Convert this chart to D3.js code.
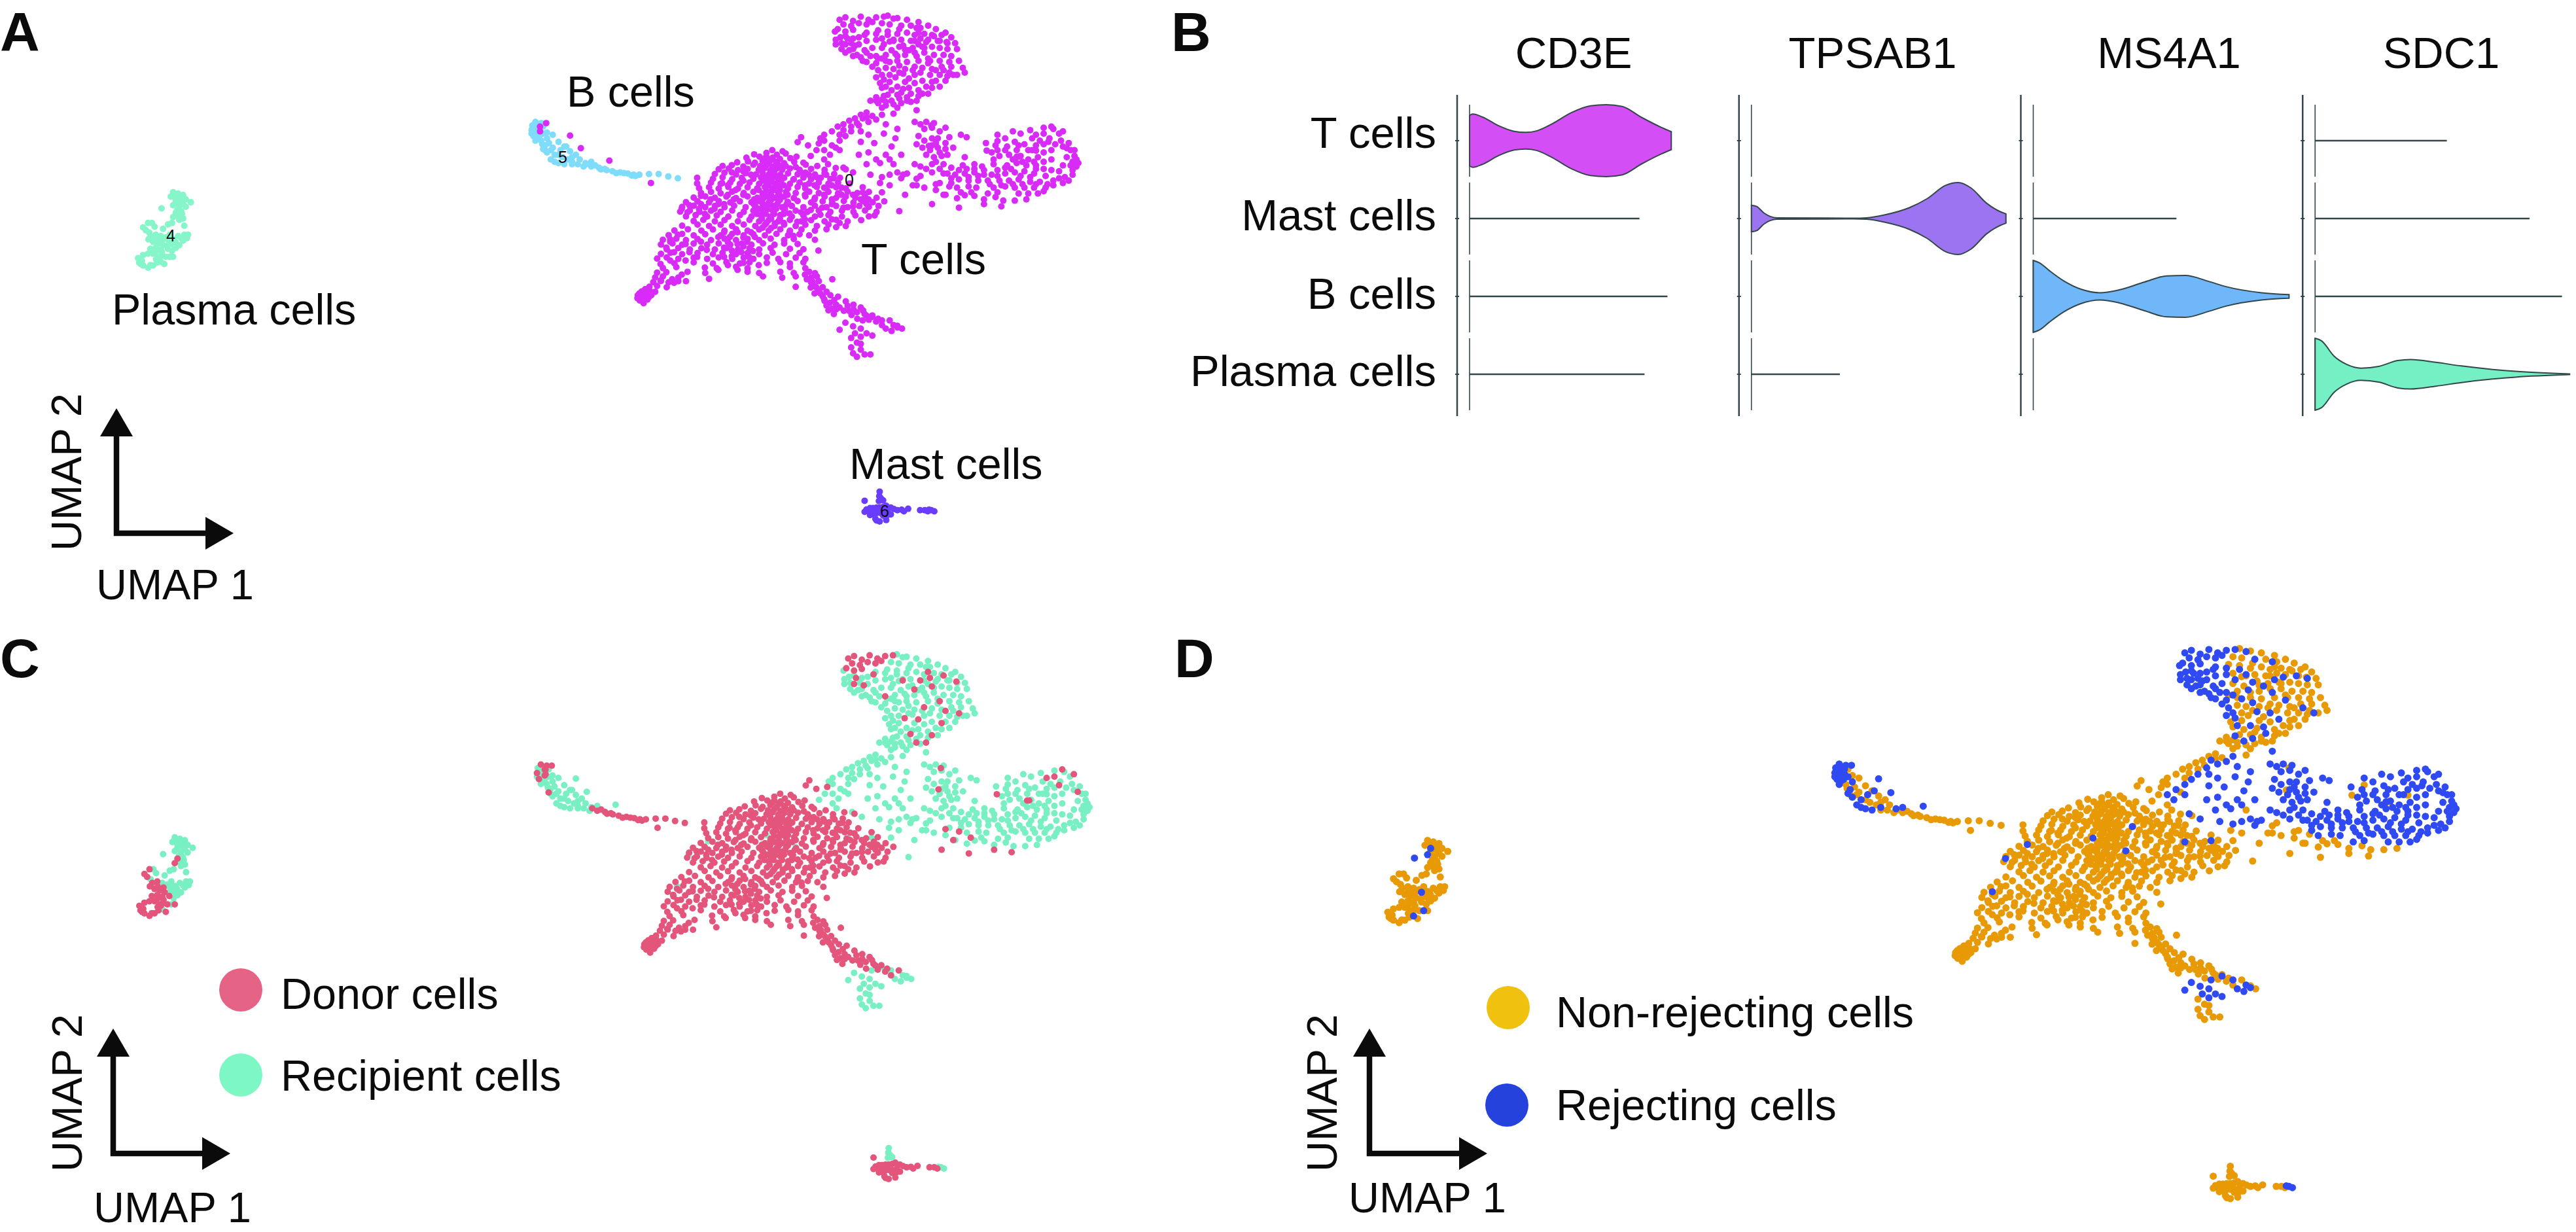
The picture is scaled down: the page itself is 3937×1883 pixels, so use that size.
<!DOCTYPE html>
<html><head><meta charset="utf-8">
<script src="https://cdnjs.cloudflare.com/ajax/libs/d3/7.8.5/d3.min.js"></script>
<style>html,body{margin:0;background:#fff}svg{display:block}text{font-family:"Liberation Sans",Arial,sans-serif;fill:#0b0b0b}</style>
</head><body><div id="c"></div>
<script>
// UMAP cell positions (arbitrary embedding units), grouped as cluster + origin + rejection state, flat x,y lists
const tDonorNon=[715,640,742,645,668,658,700,652,727,660,750,655,778,668,648,672,682,668,695,676,716,672,735,678,762,674,624,692,652,688,670,694,690,686,706,694,725,690,746,696,772,690,796,694,586,708,610,704,640,710,666,702,684,708,700,704,716,710,731,704,750,708,776,712,802,702,832,708,576,722,602,718,626,725,651,720,680,724,695,717,710,726,726,719,741,724,761,718,786,724,816,720,851,724,880,716,906,722,566,742,591,736,621,744,646,738,673,743,690,737,706,744,720,738,736,745,756,739,781,743,801,736,826,744,851,738,876,742,520,758,561,762,586,756,611,764,636,758,666,762,686,757,701,764,716,758,731,764,746,758,771,764,796,757,816,764,841,758,866,763,891,758,520,782,556,778,581,784,606,778,631,784,656,778,681,784,701,778,721,783,736,777,761,784,786,778,811,782,836,777,861,783,886,778,916,782,525,802,551,798,576,804,601,797,626,804,651,798,676,803,696,797,716,804,731,798,756,803,781,797,801,803,831,797,856,804,881,798,906,803,950,798,530,822,556,818,581,824,611,817,641,823,666,818,691,824,711,818,731,824,751,818,776,823,811,817,836,823,861,818,886,824,911,817,936,823,966,818,511,842,541,837,566,843,596,838,621,844,651,837,676,843,701,838,721,843,746,838,771,844,801,837,826,843,851,838,881,843,906,838,931,843,956,837,986,843,491,862,521,858,551,863,576,857,606,863,631,858,661,862,681,857,706,863,731,858,756,863,781,857,816,863,846,858,871,863,901,857,926,863,951,858,976,862,1006,858,481,882,511,877,541,883,566,878,591,883,616,877,646,883,671,878,691,883,716,877,741,883,766,878,796,883,826,877,856,883,881,878,911,883,941,878,966,882,991,878,476,902,501,897,526,903,556,898,581,903,611,897,641,903,666,898,691,903,716,897,746,903,776,898,806,903,836,897,866,903,896,898,926,903,956,897,986,903,491,922,516,917,546,923,571,918,601,923,631,917,661,923,686,918,711,923,736,917,766,923,796,918,826,923,861,917,896,923,931,918,966,922,981,918,511,942,536,937,566,943,591,938,626,943,656,937,681,943,706,938,731,943,761,937,791,943,816,938,851,943,881,937,911,943,946,938,481,962,521,957,551,963,581,958,611,963,641,957,671,963,696,958,721,963,746,957,776,963,801,958,831,963,861,957,906,963,461,982,496,977,531,983,561,978,591,983,621,977,651,983,681,978,706,983,736,977,761,983,791,978,826,983,856,977,881,968,446,1002,481,997,511,1003,541,998,581,1003,611,997,641,1003,666,998,696,1003,726,997,756,1003,786,998,811,1003,431,1022,466,1017,491,1023,521,1018,556,1023,591,1017,621,1023,651,1018,681,1023,711,1017,746,1023,771,1018,826,1022,426,1042,456,1037,481,1043,511,1038,546,1043,576,1037,606,1043,636,1038,661,1043,691,1037,721,1043,746,1038,781,1040,441,1062,471,1057,501,1063,531,1058,566,1063,596,1057,626,1063,656,1058,681,1063,711,1057,761,1060,796,1062,835,1068,426,1082,451,1077,481,1083,521,1078,561,1083,586,1077,621,1083,651,1078,681,1083,716,1077,751,1083,786,1078,416,1102,441,1097,471,1103,511,1098,546,1103,576,1097,611,1103,641,1098,666,1103,701,1097,731,1103,776,1098,801,1103,461,1122,511,1118,561,1123,596,1117,631,1123,656,1118,701,1120,736,1117,761,1123,796,1118,431,1142,466,1138,571,1143,621,1137,651,1143,761,1138,801,1143,416,1162,495,1158,541,1163,651,1158,681,1163,736,1158,771,1163,811,1158,826,1164,411,1182,431,1178,471,1183,551,1188,691,1178,741,1183,776,1178,816,1183,831,1178,871,1190,406,1202,426,1197,446,1203,491,1198,816,1203,836,1198,396,1222,416,1218,441,1224,471,1198,776,1222,826,1218,846,1224,376,1242,396,1238,411,1243,836,1238,856,1243,366,1258,381,1262,401,1258,846,1262,866,1258,886,1264,371,1280,391,1276,381,1292,851,1282,876,1278,906,1284,856,1302,881,1298,911,1303,926,1298,861,1322,881,1318,901,1324,926,1318,951,1323,875,1338,921,1342,955,1338,975,1344,936,1358,966,1362,990,1358,1020,1365,790,585,808,620,781,606,836,612,
  1095,140,1075,175,1100,165,1135,155,1168,180,1030,175,1060,212,1105,200,1125,260,1085,285,1140,300,1175,310,1035,330,1070,335,1130,350,1105,400,1050,395,1090,430,1065,430,
  1140,785,1175,795,1160,830,1130,870,1200,885,1265,870,1310,880,1205,820,1272,642,1355,668,1122,622,1128,535,
  400,780,
  700,668,712,682,728,698,696,712,742,712,708,752,723,752,692,750,738,770,712,770,728,790,705,790,690,770,745,790,720,810,700,812,735,810,690,830,712,832,733,830,755,830,668,850,690,850,712,852,735,852,668,872,690,868,705,872,728,870,752,872,680,890,702,892,725,890,748,892,675,912,698,912,720,912,745,912,688,932,712,932,735,932,700,950,722,952,745,950,690,970,712,972,
  590,990,605,1010,625,990,640,1012,660,990,575,1010,600,1032,625,1040,650,1030,670,1010,590,1055,610,1068,640,1050,665,1070,635,1075,610,1092,590,1095,655,1095,
  530,870,555,850,500,875,525,890,495,905,540,912,565,890,590,870,615,850,640,830,620,810,600,790,640,770,660,745,640,730,610,735,585,780,600,830,575,870,
  790,735,810,745,830,755,855,745,875,760,800,790,825,790,850,800,870,790,895,800,800,830,825,850,850,830,870,850,895,830,925,830,945,850,965,850,960,870,925,880,900,885,870,870,845,885,815,895,790,905,800,935,840,915,870,935,890,950,760,910,780,945,760,990,770,1005,
  450,1030,470,1000,440,1055,460,1075,490,1040,500,1075,530,1030,545,1065,520,1095,490,1110,450,1110,425,1125,440,1160,425,1195,455,1190,480,1170,460,1205,
  370,1250,385,1250,395,1265,380,1275,365,1270,400,1245,385,1232,
  800,1170,820,1200,805,1190,830,1225,815,1225,840,1250,825,1250,850,1275,865,1290,870,1315,890,1310,915,1325,935,1330,945,1310,960,1345,985,1370,1000,1385,
  540,1140,600,1130,640,1120,575,1150,625,1150,680,1130];
const tDonorRej=[890,85,905,75,925,90,945,72,965,85,985,75,900,105,920,112,940,100,960,105,885,125,905,135,925,128,975,95,1005,72,910,165,930,195,905,190,955,150,985,240,1440,540,1470,560,1420,570,1400,575,1432,605,1480,632,1350,668,112,540,112,560,128,525];
const tRecipNon=[1015,68,1040,78,1065,85,1095,95,1120,110,1000,100,1020,105,1045,125,1075,110,1100,120,1140,125,1165,140,990,130,1015,135,1040,145,1065,140,1085,150,1110,145,1130,150,1155,150,1180,160,1000,165,1020,178,1050,170,1085,175,1120,170,1150,175,1190,185,1000,205,1025,215,1055,195,1080,205,1110,205,1130,200,1150,205,1170,210,1195,210,1010,235,1040,240,1060,235,1085,225,1110,225,1135,235,1160,235,1180,240,990,250,1010,260,1040,260,1065,265,1095,260,1120,250,1150,260,1175,265,1200,260,1010,290,1030,295,1060,295,1080,300,1105,290,1130,295,1155,285,1180,285,1210,290,1020,320,1045,310,1100,310,1125,320,1150,320,1170,325,1215,310,1195,320,995,355,1020,350,1060,350,1085,355,1115,370,1140,345,1165,345,1000,375,1025,385,1055,380,1095,385,1130,375,1150,370,985,415,1015,405,1040,405,1065,415,1095,410,1120,400,970,430,990,440,1010,450,1030,445,1050,440,1075,435,1000,425,985,430,1000,460,1010,435,1040,460,1030,485,
  960,480,945,490,930,505,915,515,900,530,885,540,870,560,850,575,840,590,920,540,900,555,890,575,935,525,960,500,975,495,850,600,880,630,830,640,815,665,850,680,860,700,1030,700,995,780,1020,790,1080,790,1060,830,1045,900,1000,820,
  1090,790,1110,800,1140,810,1165,830,1195,845,1215,832,1240,835,1265,850,1295,840,1315,855,1345,855,1375,850,1100,750,1090,762,1232,820,1150,780,1300,602,1345,680,1400,642,
  920,1440,935,1460,920,1480,945,1490,925,1505,935,1520,955,1510,970,1510,945,1465,1052,1400,1040,1388];
const tRecipRej=[1030,80,1050,110,1090,120,880,190,895,210,915,215,940,160,960,175,975,205,1005,190,1030,170,1045,200,1070,215,1090,240,1115,180,1145,175,1170,185,1095,190,1120,270,1160,300,1185,320,935,235,950,260,985,270,1020,265,1045,280,990,300,1055,315,1085,320,1105,345,1005,340,1040,370,1010,370,1070,375,1005,410,1025,430,1045,420,1075,400,925,240,
  878,135,892,160,880,170,905,155,925,165,895,185,920,185,940,190,905,225,925,210,955,215,970,240,960,225,945,245,975,285,960,265,1000,320,985,330,960,140,985,170,1015,150,985,145,1000,250,1035,230,
  950,505,965,520,940,535,920,560,905,580,890,600,870,620,850,640,1000,490,985,510,945,560,1010,530,1040,550,965,575,1005,570,1035,590,945,605,980,610,1025,625,890,640,865,660,940,660,965,650,985,680,1010,660,1050,660,1020,680,960,700,995,695,900,715,925,735,1040,735,1055,745,1065,740,1050,760,1020,745,1000,755,970,745,1090,470,
  1085,520,1100,530,1115,520,1135,525,1110,550,1130,545,1150,560,1165,545,1095,580,1130,590,1145,590,1175,585,1205,575,1220,585,1090,615,1105,630,1125,640,1145,630,1165,635,1185,630,1115,660,1135,670,1155,665,1170,660,1215,670,1085,700,1100,710,1115,720,1140,690,1160,700,1180,715,1210,705,1130,735,1160,740,1190,745,
  1110,600,1140,610,1165,610,1130,620,1150,650,1130,700,1150,720,1170,740,1200,725,1220,720,
  1300,575,1320,590,1340,560,1360,570,1385,555,1420,545,1445,550,1460,570,1390,590,1410,600,1435,590,1465,600,1485,610,1345,605,1370,615,1270,610,1295,620,1325,625,1350,640,1390,640,1420,650,1440,640,1490,640,1500,665,1285,650,1305,665,1330,660,1360,665,1380,680,1405,670,1440,680,1470,705,1510,695,1495,690,1240,700,1260,710,1290,700,1325,705,1350,695,1375,705,1400,705,1420,720,1495,725,1505,710,1215,740,1240,735,1265,745,1285,745,1320,740,1345,735,1370,730,1395,740,1425,750,1475,755,1495,745,1180,780,1200,765,1225,770,1250,770,1275,770,1305,770,1330,770,1355,765,1385,775,1410,775,1445,770,1470,780,1195,800,1225,795,1245,800,1290,800,1320,795,1345,800,1370,800,1395,800,1425,800,1445,790,1275,825,1300,820,1355,825,1380,825,1405,825,1420,815,
  1240,720,1265,725,1300,725,1335,720,1360,750,1385,755,1250,750,1300,750,1320,715,1225,755,1180,760,1280,785,1310,790,1340,785,1365,785,1400,785,1430,785,1460,760,1485,770,1400,720,1440,725,1460,730,1490,705,1505,680,1480,670,1500,640,1470,625,1450,615,1420,615,1400,620,1380,640,1355,620,1320,640,1300,640,1290,680,1340,680,1365,690,1395,690,1420,690,
  680,810,755,860,770,765,480,890,450,1020,890,825,950,820,530,835,
  905,1375,925,1390,950,1365,975,1350,1000,1365,1040,1395,1025,1410,1010,1400,945,1400,930,1420,960,1420,975,1430,1030,1385,945,1435,890,1405,
  190,578,218,632,292,685];
const bDonorRej=[100,520,115,525,90,555,95,580,110,540,110,565,120,635];
const bRecipRej=[105,540,95,545,90,570,105,585,120,570,100,600,125,620,130,650,150,660,165,640,180,625,140,680,160,695,175,700,195,690,150,690,230,695,245,690,92,535,100,560,110,580,130,590];
const bRecipNon=[120,540,130,565,145,575,115,600,135,610,160,605,175,625,190,645,205,660,125,640,145,630,215,680,210,700,225,710,195,670,118,615,140,640,160,660,170,670,185,680,195,700];
const bDonorNon=[245,710,265,715,285,725,300,730,320,735,340,740,355,745,370,745,395,742,420,742,445,752,470,760,280,720,310,738,360,750,255,705,232,700,270,722,330,738,350,748];
const plasmaDonorNon=[-919,1087,-906,1081,-893,1081,-929,1119,-919,1131,-906,1141,-893,1131,-883,1119,-877,1100,-864,1125,-860,1094,-841,1094,-932,1100,-922,1112,-880,1094,-893,1031,-880,1037,-867,1044,-873,1062,-886,1056,-899,1006,-886,1000,-919,969,-906,950,-912,981,-834,906,-841,925,-925,1125,-900,1130,-885,1105,-872,1090,-900,1060,-885,1070,-870,1075,-855,1060,-870,1025,-885,1020,-905,1020];
const plasmaRecipNon=[-841,819,-828,825,-847,838,-815,831,-821,856,-808,850,-795,862,-825,881,-808,881,-818,912,-825,937,-815,931,-844,950,-854,956,-812,962,-896,950,-903,991,-889,966,-867,975,-873,1006,-860,1012,-841,1019,-828,1006,-812,1000,-802,1000,-815,1025,-854,1044,-834,1056,-844,1069,-835,835,-820,845,-835,865,-815,870,-830,895,-820,900,-830,920,-850,1000,-835,1030,-820,1015,-805,1015,-850,1030,-840,1045,-825,1045];
const plasmaRecipRej=[-834,850,-841,875,-873,1115,-855,1022,-871,888,-850,1094];
const mastDonorNon=[960,2170,969,2164,977,2164,986,2162,994,2162,1003,2159,1011,2154,1023,2162,1031,2168,1040,2173,1051,2171,1057,2178,1068,2167,955,2180,969,2184,977,2188,986,2184,994,2184,1003,2184,1015,2178,969,2194,981,2194,1003,2196,1015,2193,1023,2191,986,2217,994,2221,1011,2215,983,2210,955,2133,1099,2173,1111,2173,1119,2178];
const mastRecipNon=[994,2094,993,2113,997,2122,992,2134,1003,2131];
const mastRecipRej=[1128,2173,1136,2178,1122,2171];

// violin densities: [expression, relative half width]
const genes=["CD3E","TPSAB1","MS4A1","SDC1"];
const rows=["T cells","Mast cells","B cells","Plasma cells"];
const violinCD3E=[[0,.70],[.05,.74],[.2,.66],[.45,.42],[.7,.26],[.88,.23],[1.05,.27],[1.3,.47],[1.6,.78],[1.9,.97],[2.15,1],[2.4,.95],[2.7,.65],[3,.38],[3.17,.25]];
const violinTPSAB1=[[0,.37],[.08,.34],[.2,.15],[.4,.02],[1.6,.01],[1.81,.02],[2.09,.1],[2.48,.3],[2.76,.55],[3.05,.92],[3.25,1],[3.45,.85],[3.7,.42],[3.9,.2],[4,.13]];
const violinMS4A1=[[0,1],[.1,.93],[.25,.72],[.48,.43],[.75,.2],[1.05,.1],[1.35,.18],[1.75,.4],[2.1,.57],[2.39,.58],[2.75,.42],[3.03,.27],[3.59,.1],[4.02,.05]];
const violinSDC1=[[0,1],[.1,.93],[.3,.5],[.5,.27],[.72,.17],[1,.22],[1.3,.38],[1.5,.41],[1.9,.33],[2.3,.23],[3.15,.08],[4,.01]];
// genes expressed by nearly no cell of a type: maximum expression reached by the flat line
const flatLines=[["CD3E","Mast cells",2.67],["CD3E","B cells",3.11],["CD3E","Plasma cells",2.75],["TPSAB1","Plasma cells",1.39],["MS4A1","Mast cells",2.25],["SDC1","T cells",2.07],["SDC1","Mast cells",3.37],["SDC1","B cells",3.88]];
const violinSets=[["CD3E","T cells",violinCD3E,"#d44ef5"],["TPSAB1","Mast cells",violinTPSAB1,"#9c74f2"],["MS4A1","B cells",violinMS4A1,"#70b7fa"],["SDC1","Plasma cells",violinSDC1,"#75f0c4"]];

const W=3937,H=1883;
const svg=d3.select("#c").append("svg").attr("width",W).attr("height",H);
const pairs=a=>d3.range(0,a.length,2).map(i=>[a[i],a[i+1]]);
const tag=(a,cluster,donor,rej)=>pairs(a).map(p=>({x:p[0],y:p[1],cluster,donor,rej}));
const cells=[].concat(
 tag(tDonorNon,"T",true,false),tag(tRecipNon,"T",false,false),tag(tRecipRej,"T",false,true),tag(tDonorRej,"T",true,true),
 tag(bDonorNon,"B",true,false),tag(bRecipNon,"B",false,false),tag(bRecipRej,"B",false,true),tag(bDonorRej,"B",true,true),
 tag(plasmaDonorNon,"P",true,false),tag(plasmaRecipNon,"P",false,false),tag(plasmaRecipRej,"P",false,true),
 tag(mastDonorNon,"M",true,false),tag(mastRecipNon,"M",false,false),tag(mastRecipRej,"M",false,true));
const extX=[-932,1515],extY=[65,2221];
const clusterCol={T:"#d82bf8",B:"#7fdcfb",P:"#86f6ca",M:"#6a3cff"};
function umap(xr,yr,r,order,col){
  const x=d3.scaleLinear().domain(extX).range(xr),y=d3.scaleLinear().domain(extY).range(yr);
  svg.append("g").selectAll("circle").data(cells.slice().sort(order)).join("circle")
    .attr("cx",d=>x(d.x)).attr("cy",d=>y(d.y)).attr("r",r).attr("fill",col);
}
umap([211,1651],[23,797],5,(a,b)=>(a.cluster==="T")-(b.cluster==="T")||0,d=>clusterCol[d.cluster]);
umap([213,1668],[999,1802],5,(a,b)=>a.donor-b.donor,d=>d.donor?"#e4557c":"#79f0c3");
umap([2121,3757],[990,1832],5.5,(a,b)=>a.rej-b.rej,d=>d.rej?"#2f4af2":"#e89a06");

const text=(s,x,y,size,o={})=>{const t=svg.append("text").attr("x",x).attr("y",y).attr("font-size",size).text(s);
  if(o.anchor)t.attr("text-anchor",o.anchor); if(o.bold)t.attr("font-weight","bold"); if(o.rot)t.attr("transform",`rotate(-90 ${x} ${y})`); return t;};
[["A",0,78],["B",1790,78],["C",0,1035],["D",1795,1035]].forEach(d=>text(d[0],d[1],d[2],84,{bold:true}));
[["B cells",866,163],["T cells",1316,419],["Plasma cells",171,496],["Mast cells",1298,732]].forEach(d=>text(d[0],d[1],d[2],66.5));
[["5",860,249],["0",1298,284],["4",261,369],["6",1352,790]].forEach(d=>text(d[0],d[1],d[2],25,{anchor:"middle"}));

function arrows(cx,top,cy,tip,lab2x,lab2y,lab1x,lab1y){
  svg.append("path").attr("d",`M${cx},${top+30}V${cy}H${tip-30}`).attr("fill","none").attr("stroke","#0b0b0b").attr("stroke-width",8.5);
  svg.append("path").attr("d",`M${cx},${top}l25,43h-50z`).attr("fill","#0b0b0b");
  svg.append("path").attr("d",`M${tip},${cy}l-43,-25v50z`).attr("fill","#0b0b0b");
  text("UMAP 2",lab2x,lab2y,65,{rot:true}); text("UMAP 1",lab1x,lab1y,65);
}
arrows(178,624,815,357,124,842,147,916);
arrows(173,1572,1763,352,125,1791,143,1868);
arrows(2093,1572,1763,2273,2043,1791,2061,1853);

[[368,1513,"#e56485","Donor cells",429,1542],[368,1643,"#7df8c4","Recipient cells",429,1667],[2305,1540,"#f0c20f","Non-rejecting cells",2378,1570],[2303,1689,"#2542dc","Rejecting cells",2378,1712]]
 .forEach(d=>{svg.append("circle").attr("cx",d[0]).attr("cy",d[1]).attr("r",33).attr("fill",d[2]);text(d[3],d[4],d[5],66.5);});

// Panel B
const colX=d3.scaleBand().domain(genes).range([2227,3950]).padding(0);
const rowY=d3.scalePoint().domain(rows).range([215,572]);
const exprX=d3.scaleLinear().domain([0,4]).range([0,389]);
const dens=d3.scaleLinear().domain([0,1]).range([0,55]);
const ink="#33464a";
const headX={CD3E:2405,TPSAB1:2862,MS4A1:3315,SDC1:3731};
genes.forEach(g=>{
  const ax=colX(g),zero=ax+19;
  svg.append("line").attr("x1",ax).attr("x2",ax).attr("y1",145).attr("y2",636).attr("stroke",ink).attr("stroke-width",2.5);
  rows.forEach(r=>{
    const c=rowY(r);
    svg.append("line").attr("x1",zero).attr("x2",zero).attr("y1",c-55).attr("y2",c+55).attr("stroke",ink).attr("stroke-width",1.6);
    svg.append("line").attr("x1",ax-3).attr("x2",ax+3).attr("y1",c).attr("y2",c).attr("stroke",ink).attr("stroke-width",2);
  });
  text(g,headX[g],104,67,{anchor:"middle"});
});
rows.forEach((r,i)=>text(r,2195,[226,352,472,590][i],67,{anchor:"end"}));
flatLines.forEach(([g,r,m])=>{const z=colX(g)+19;
  svg.append("line").attr("x1",z).attr("x2",z+exprX(m)).attr("y1",rowY(r)).attr("y2",rowY(r)).attr("stroke",ink).attr("stroke-width",2.4);});
violinSets.forEach(([g,r,v,col])=>{const z=colX(g)+19,c=rowY(r);
  const area=d3.area().x(d=>z+exprX(d[0])).y0(d=>c-dens(d[1])).y1(d=>c+dens(d[1])).curve(d3.curveMonotoneX);
  svg.append("path").attr("d",area(v)+"Z").attr("fill",col).attr("stroke",ink).attr("stroke-width",2);});
</script></body></html>
